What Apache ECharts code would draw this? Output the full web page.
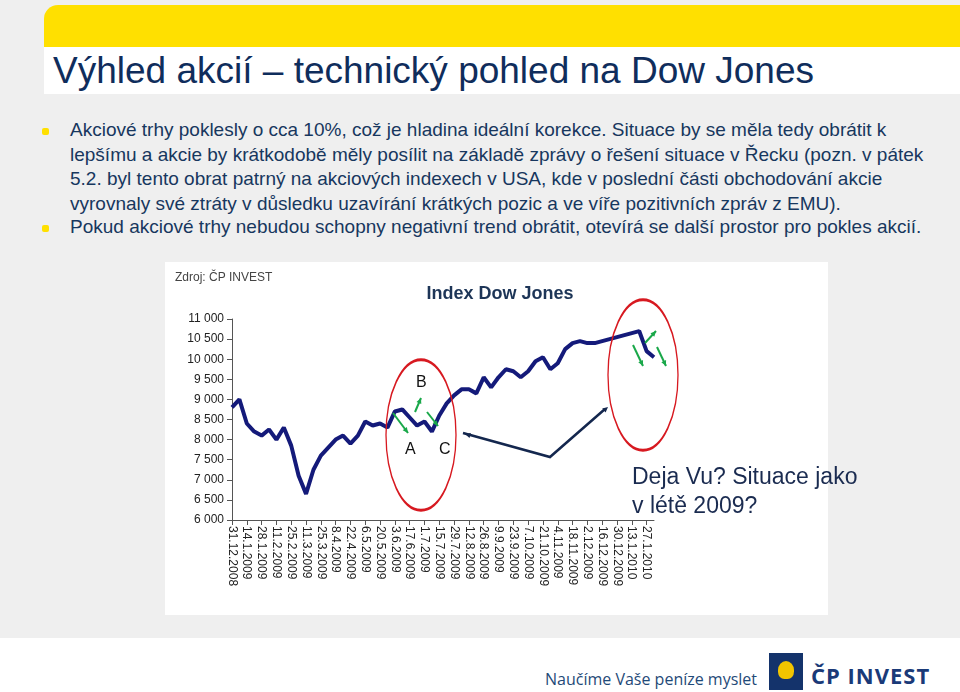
<!DOCTYPE html>
<html><head><meta charset="utf-8">
<script src="https://cdn.jsdelivr.net/npm/echarts@6/dist/echarts.min.js"></script>
<style>
body{margin:0;width:960px;height:692px;background:#efefef;position:relative;overflow:hidden;font-family:"Liberation Sans",Arial,sans-serif;}
.abs{position:absolute;}
#band{left:44px;top:5px;width:916px;height:42px;background:#ffe000;border-top-left-radius:14px;}
#tbox{left:44px;top:47px;width:916px;height:47px;background:#fff;}
#title{left:53px;top:50px;font-size:37px;color:#0f2d5c;white-space:nowrap;}
.txt{left:70px;font-size:19px;color:#17375e;line-height:24.5px;width:880px;}
.bul{left:42px;width:7px;height:7px;background:#ffe000;border-radius:2px;}
#chartbg{left:165px;top:262px;width:663px;height:353px;background:#fff;}
#chart{left:165px;top:262px;width:663px;height:353px;}
#deja{left:632px;top:462px;font-size:23px;color:#1a2b50;line-height:29px;white-space:nowrap;}
#foot{left:0;top:638px;width:960px;height:54px;background:#fff;}
#slogan{left:545px;top:668px;font-size:16px;color:#1f4a78;font-family:"Open Sans",sans-serif;}
#logo{left:769px;top:653px;width:34px;height:37px;background:#14336b;}
#logo div{position:absolute;left:9px;top:8px;width:16px;height:18px;background:#f2c500;border-radius:50% 50% 40% 40%;}
#cp{left:811px;top:660px;font-size:22px;font-weight:bold;color:#1a3a78;font-family:"Open Sans",sans-serif;letter-spacing:1px;}
</style></head><body>
<div class="abs" id="band"></div><div class="abs" id="tbox"></div>
<div class="abs" id="title">Výhled akcií – technický pohled na Dow Jones</div>
<div class="abs bul" style="top:128px"></div>
<div class="abs bul" style="top:225px"></div>
<div class="abs txt" style="top:118px">Akciové trhy poklesly o cca 10%, což je hladina ideální korekce. Situace by se měla tedy obrátit k lepšímu a akcie by krátkodobě měly posílit na základě zprávy o řešení situace v Řecku (pozn. v pátek 5.2. byl tento obrat patrný na akciových indexech v USA, kde v poslední části obchodování akcie vyrovnaly své ztráty v důsledku uzavírání krátkých pozic a ve víře pozitivních zpráv z EMU).</div>
<div class="abs txt" style="top:215px">Pokud akciové trhy nebudou schopny negativní trend obrátit, otevírá se další prostor pro pokles akcií.</div>
<div class="abs" id="chartbg"></div>
<div class="abs" id="chart"></div>
<div class="abs" id="deja">Deja Vu? Situace jako<br>v létě 2009?</div>
<div class="abs" id="foot"></div>
<div class="abs" id="slogan">Naučíme Vaše peníze myslet</div>
<div class="abs" id="logo"><div></div></div>
<div class="abs" id="cp">ČP INVEST</div>
<script>
const dates = ["31.12.2008","7.1.2009","14.1.2009","21.1.2009","28.1.2009","4.2.2009","11.2.2009","18.2.2009","25.2.2009","4.3.2009","11.3.2009","18.3.2009","25.3.2009","1.4.2009","8.4.2009","15.4.2009","22.4.2009","29.4.2009","6.5.2009","13.5.2009","20.5.2009","27.5.2009","3.6.2009","10.6.2009","17.6.2009","24.6.2009","1.7.2009","8.7.2009","15.7.2009","22.7.2009","29.7.2009","5.8.2009","12.8.2009","19.8.2009","26.8.2009","2.9.2009","9.9.2009","16.9.2009","23.9.2009","30.9.2009","7.10.2009","14.10.2009","21.10.2009","28.10.2009","4.11.2009","11.11.2009","18.11.2009","25.11.2009","2.12.2009","9.12.2009","16.12.2009","23.12.2009","30.12.2009","6.1.2010","13.1.2010","20.1.2010","27.1.2010","3.2.2010"];
const dowJones = [8800,9000,8400,8200,8100,8250,8000,8300,7850,7100,6650,7250,7600,7800,8000,8100,7900,8100,8450,8350,8400,8300,8700,8750,8550,8350,8450,8200,8600,8900,9100,9250,9250,9150,9550,9300,9550,9750,9700,9550,9700,9950,10050,9750,9900,10250,10400,10450,10400,10400,10450,10500,10550,10600,10650,10700,10200,10050];
const yTicks = [6000,6500,7000,7500,8000,8500,9000,9500,10000,10500,11000];

function arrow(x1,y1,x2,y2,color,w){
  const a=Math.atan2(y2-y1,x2-x1),h=6;
  return [{type:'line',shape:{x1,y1,x2,y2},style:{stroke:color,lineWidth:w},z:100},
   {type:'polygon',shape:{points:[[x2,y2],[x2-h*Math.cos(a-0.45),y2-h*Math.sin(a-0.45)],[x2-h*Math.cos(a+0.45),y2-h*Math.sin(a+0.45)]]},style:{fill:color},z:100}];
}
const G='#1aa84a', N='#14274e';
let gfx=[
 {type:'text',left:10,top:10,style:{text:'Zdroj: ČP INVEST',font:'12px "Liberation Sans Narrow", Arial',fill:'#444'}},
 {type:'circle',shape:{cx:0,cy:0,r:35},x:256,y:173,scaleY:2.15,style:{fill:'none',stroke:'#d71920',lineWidth:1.3},z:90},
 {type:'circle',shape:{cx:0,cy:0,r:35},x:478,y:113,scaleY:2.15,style:{fill:'none',stroke:'#d71920',lineWidth:1.3},z:90},
 {type:'text',x:251,y:113,style:{text:'B',font:'16px Arial',fill:'#111'},z:100},
 {type:'text',x:240,y:180,style:{text:'A',font:'16px Arial',fill:'#111'},z:100},
 {type:'text',x:274,y:180,style:{text:'C',font:'16px Arial',fill:'#111'},z:100},
 {type:'polyline',shape:{points:[[298,171],[385,195],[440,147]]},style:{stroke:N,lineWidth:2.5,fill:'none'},z:100}
];
gfx=gfx.concat(arrow(385,195,300,172,N,0),arrow(385,195,443,145,N,0));
gfx=gfx.concat(arrow(228,151,243,171,G,2),arrow(250,150,256,136,G,2),arrow(262,150,273,164,G,2),
 arrow(468,83,478,104,G,2),arrow(480,81,491,69,G,2),arrow(492,85,501,104,G,2));

const chart=echarts.init(document.getElementById('chart'));
chart.setOption({
 animation:false,
 title:{text:'Index Dow Jones',left:330,top:18,textAlign:'center',textStyle:{fontFamily:'"Liberation Sans Narrow", Arial',fontSize:18,fontWeight:'bold',color:'#1d3557'}},
 grid:{left:67,top:57,width:422,height:201},
 xAxis:{type:'category',data:dates,boundaryGap:false,
  axisLine:{lineStyle:{color:'#555'}},axisTick:{interval:1,lineStyle:{color:'#555'}},
  axisLabel:{interval:1,rotate:-90,fontFamily:'"Liberation Sans Narrow", Arial',fontSize:12,color:'#222',margin:6}},
 yAxis:{type:'value',min:6000,max:11000,interval:500,
  axisLine:{show:true,lineStyle:{color:'#555'}},axisTick:{show:true,lineStyle:{color:'#555'}},splitLine:{show:false},
  axisLabel:{fontFamily:'"Liberation Sans Narrow", Arial',fontSize:12,color:'#222',formatter:v=>yTicks.includes(v)?String(v).replace(/(\d+)(\d{3})$/,'$1 $2'):''}},
 series:[{type:'line',data:dowJones,symbol:'none',lineStyle:{color:'#141a7a',width:4}}],
 graphic:gfx
});
</script></body></html>
